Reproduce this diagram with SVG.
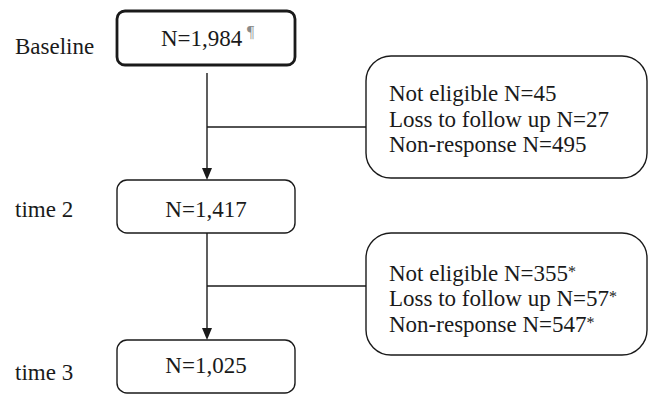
<svg xmlns="http://www.w3.org/2000/svg" width="649" height="394" viewBox="0 0 649 394">
<style>
text{font-family:'Liberation Serif','Times New Roman',Tinos,'Nimbus Roman','Nimbus Roman No9 L','DejaVu Serif',serif;font-size:23px;fill:#1a1a1a}
.box{fill:#fff;stroke:#1a1a1a;stroke-width:1.4}
.thick{stroke-width:2.8}
.ln{stroke:#1a1a1a;stroke-width:1.4;fill:none}
.c{text-anchor:middle}
.ast{font-size:16px}
</style>
<rect width="649" height="394" fill="#fff"/>
<g id="labels">
<text x="15" y="54">Baseline</text>
<text x="15" y="217">time 2</text>
<text x="15" y="380">time 3</text>
</g>
<g id="connectors">
<line class="ln" x1="207" y1="73" x2="207" y2="169"/>
<path d="M202,168 L212,168 L207,180 Z" fill="#1a1a1a"/>
<line class="ln" x1="207" y1="127" x2="366" y2="127"/>
<line class="ln" x1="207" y1="233" x2="207" y2="329"/>
<path d="M202,328 L212,328 L207,340 Z" fill="#1a1a1a"/>
<line class="ln" x1="207" y1="286" x2="366" y2="286"/>
</g>
<g id="baseline">
<rect class="box thick" x="117" y="11" width="178" height="54" rx="8"/>
<text x="161" y="46">N=1,984</text>
<text x="247" y="37" style="font-size:16px;fill:#8a8a8a">¶</text>
</g>
<g id="time2">
<rect class="box" x="117" y="180" width="178" height="53" rx="10"/>
<text class="c" x="206" y="217">N=1,417</text>
</g>
<g id="time3">
<rect class="box" x="117" y="340" width="178" height="53" rx="10"/>
<text class="c" x="206" y="373">N=1,025</text>
</g>
<g id="excl1">
<rect class="box" x="366" y="56" width="281" height="122" rx="25"/>
<text x="389" y="101">Not eligible N=45</text>
<text x="389" y="127">Loss to follow up N=27</text>
<text x="389" y="152">Non-response N=495</text>
</g>
<g id="excl2">
<rect class="box" x="366" y="233" width="281" height="122" rx="25"/>
<text x="389" y="281">Not eligible N=355<tspan class="ast" dy="-4">*</tspan></text>
<text x="389" y="306">Loss to follow up N=57<tspan class="ast" dy="-4">*</tspan></text>
<text x="389" y="332">Non-response N=547<tspan class="ast" dy="-4">*</tspan></text>
</g>
</svg>
